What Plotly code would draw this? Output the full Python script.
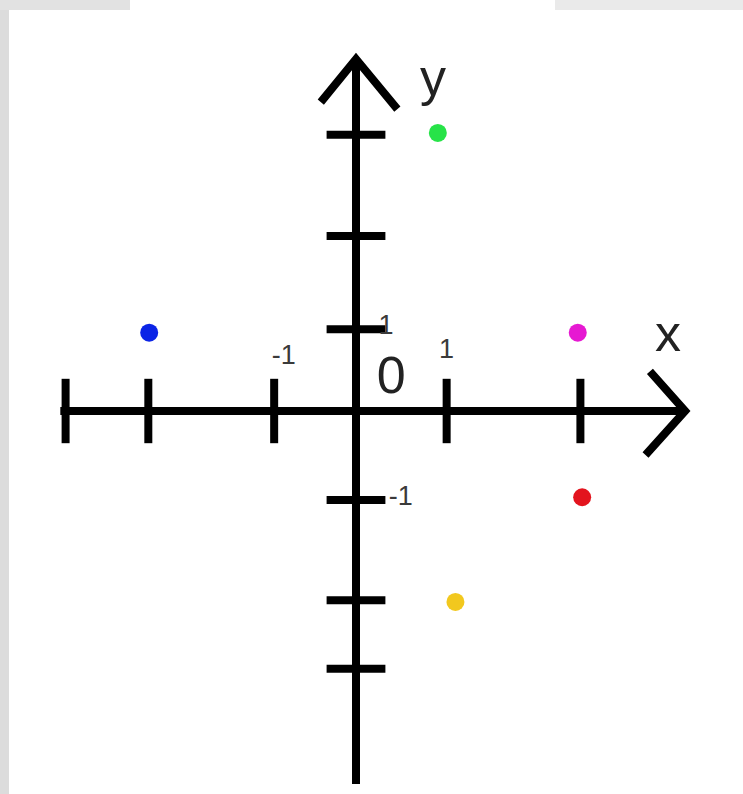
import plotly.graph_objects as go

# ---- data (grid units) ----
x_tick_vals = [-3.30, -2.36, -0.93, 1.03, 2.55]
y_tick_vals = [3.14, 1.99, 0.93, -1.01, -2.15, -2.93]

point_x = [-2.35, 0.93, 2.52, 2.57, 1.13]
point_y = [0.89, 3.16, 0.89, -0.98, -2.17]
point_colors = ["#0b24e6", "#27e348", "#e619d2", "#e3141e", "#f2c81e"]

x_tick_labels = ["-1", "1"]
x_labelled_ticks = [-0.93, 1.03]
y_tick_labels = ["1", "-1"]
y_labelled_ticks = [0.93, -1.01]

x_axis_extent = [-3.36, 3.74]
y_axis_extent = [-4.24, 4.0]

# ---- layout constants ----
W, H = 743, 794
UNIT = 88.0                 # pixels per grid unit
OX, OY = 356.0, 411.0       # origin pixel
x_range = [-OX / UNIT, (W - OX) / UNIT]
y_range = [(OY - H) / UNIT, OY / UNIT]
LW = 8
INK = "#000000"

fig = go.Figure()

# axis lines
fig.add_trace(go.Scatter(x=x_axis_extent, y=[0, 0], mode="lines",
                         line=dict(color=INK, width=LW), hoverinfo="skip"))
fig.add_trace(go.Scatter(x=[0, 0], y=y_axis_extent, mode="lines",
                         line=dict(color=INK, width=LW), hoverinfo="skip"))

# open chevron arrow heads
ab, aw = 0.40, 0.45
xt = x_axis_extent[1]
fig.add_trace(go.Scatter(x=[xt - ab, xt, xt - ab - 0.05], y=[aw, 0, -aw - 0.05],
                         mode="lines", line=dict(color=INK, width=LW), hoverinfo="skip"))
yt = y_axis_extent[1]
fig.add_trace(go.Scatter(x=[-0.40, 0, 0.47], y=[yt - 0.49, yt, yt - 0.57],
                         mode="lines", line=dict(color=INK, width=LW), hoverinfo="skip"))

# tick marks
fig.add_trace(go.Scatter(x=x_tick_vals, y=[0] * len(x_tick_vals), mode="markers",
                         marker=dict(symbol="line-ns", size=46,
                                     line=dict(color=INK, width=LW)),
                         hoverinfo="skip"))
fig.add_trace(go.Scatter(x=[0] * len(y_tick_vals), y=y_tick_vals, mode="markers",
                         marker=dict(symbol="line-ew", size=42,
                                     line=dict(color=INK, width=LW)),
                         hoverinfo="skip"))

# points
fig.add_trace(go.Scatter(x=point_x, y=point_y, mode="markers",
                         marker=dict(size=18, color=point_colors, line=dict(width=0))))

FONT = "Arial"
small = dict(family=FONT, size=27, color="#3a3a3a")
big = dict(family=FONT, size=52, color="#222222")

# tick labels
fig.add_trace(go.Scatter(x=[v + 0.11 * (v < 0) for v in x_labelled_ticks],
                         y=[0.61, 0.68], mode="text", text=x_tick_labels,
                         textposition="middle center", textfont=small, hoverinfo="skip"))
fig.add_trace(go.Scatter(x=[0.34, 0.51], y=[v + 0.02 for v in y_labelled_ticks],
                         mode="text", text=y_tick_labels,
                         textposition="middle center", textfont=small, hoverinfo="skip"))
# origin and axis names
fig.add_trace(go.Scatter(x=[0.40, 3.545, 0.875], y=[0.35, 0.83, 3.74], mode="text",
                         text=["0", "x", "y"], textposition="middle center",
                         textfont=big, hoverinfo="skip"))

shapes = [
    dict(type="rect", xref="paper", yref="paper", x0=0, x1=9 / W, y0=0, y1=1,
         fillcolor="#dcdcdc", line=dict(width=0), layer="below"),
    dict(type="rect", xref="paper", yref="paper", x0=0, x1=130 / W, y0=1 - 10 / H, y1=1,
         fillcolor="#e2e2e2", line=dict(width=0), layer="below"),
    dict(type="rect", xref="paper", yref="paper", x0=555 / W, x1=1, y0=1 - 10 / H, y1=1,
         fillcolor="#eaeaea", line=dict(width=0), layer="below"),
]

fig.update_layout(
    width=W, height=H, margin=dict(l=0, r=0, t=0, b=0),
    paper_bgcolor="white", plot_bgcolor="white", showlegend=False,
    xaxis=dict(range=x_range, visible=False, fixedrange=True),
    yaxis=dict(range=y_range, visible=False, fixedrange=True),
    shapes=shapes,
)

fig.write_html("out.html", config={"displayModeBar": False},
               post_script="document.body.style.margin='0';document.body.style.overflow='hidden';")
